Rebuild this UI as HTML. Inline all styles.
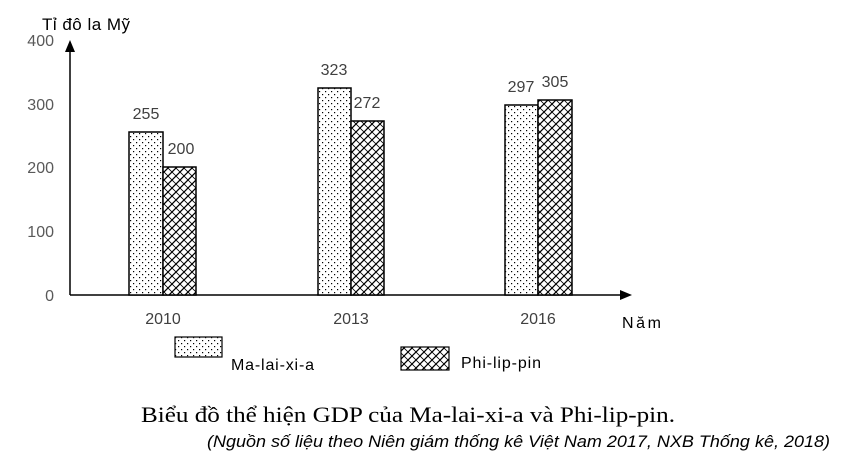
<!DOCTYPE html>
<html><head><meta charset="utf-8"><style>
body{margin:0;background:#fff;width:850px;height:463px;overflow:hidden}
</style></head><body>
<svg width="850" height="463" xmlns="http://www.w3.org/2000/svg" font-family="Liberation Sans, DejaVu Sans, sans-serif">
<defs>
<pattern id="dots" width="6" height="6" patternUnits="userSpaceOnUse">
<rect width="6" height="6" fill="#fff"/><rect x="1" y="1" width="1.2" height="1.2" fill="#000"/><rect x="4" y="4" width="1.2" height="1.2" fill="#000"/>
</pattern>
<pattern id="hatch" width="8" height="8" patternUnits="userSpaceOnUse">
<rect width="8" height="8" fill="#fff"/>
<path d="M0,8 L8,0 M-2,2 L2,-2 M6,10 L10,6" stroke="#000" stroke-width="1.3"/>
<path d="M0,0 L8,8" stroke="#000" stroke-width="0.8"/>
</pattern>
</defs>
<g font-size="16" fill="#595959" text-anchor="end">
<text x="54" y="46">400</text><text x="54" y="110">300</text><text x="54" y="173">200</text><text x="54" y="237">100</text><text x="54" y="301">0</text>
</g>
<text x="42" y="30" font-size="17" fill="#000" textLength="88">Tỉ đô la Mỹ</text>
<line x1="70" y1="295" x2="70" y2="50" stroke="#000" stroke-width="1.5"/>
<polygon points="70,40 65,52 75,52" fill="#000"/>
<line x1="70" y1="295" x2="620" y2="295" stroke="#000" stroke-width="1.5"/>
<polygon points="632,295 620,290 620,300" fill="#000"/>
<g stroke="#000" stroke-width="1.5">
<rect x="129" y="132" width="34" height="163" fill="url(#dots)"/>
<rect x="163" y="167" width="33" height="128" fill="url(#hatch)"/>
<rect x="318" y="88" width="33" height="207" fill="url(#dots)"/>
<rect x="351" y="121" width="33" height="174" fill="url(#hatch)"/>
<rect x="505" y="105" width="33" height="190" fill="url(#dots)"/>
<rect x="538" y="100" width="34" height="195" fill="url(#hatch)"/>
</g>
<g font-size="16" fill="#404040" text-anchor="middle">
<text x="146" y="119">255</text><text x="181" y="154">200</text>
<text x="334" y="75">323</text><text x="367" y="108">272</text>
<text x="521" y="92">297</text><text x="555" y="87">305</text>
<text x="163" y="324">2010</text><text x="351" y="324">2013</text><text x="538" y="324">2016</text>
</g>
<text x="622" y="328" font-size="16" fill="#000" textLength="39">Năm</text>
<rect x="175" y="337" width="47" height="20" fill="url(#dots)" stroke="#000" stroke-width="1.2"/>
<text x="231" y="370" font-size="16" fill="#000" textLength="83">Ma-lai-xi-a</text>
<rect x="401" y="347" width="48" height="23" fill="url(#hatch)" stroke="#000" stroke-width="1.2"/>
<text x="461" y="368" font-size="16" fill="#000" textLength="80">Phi-lip-pin</text>
<text x="141" y="422" font-size="22" font-family="Liberation Serif, serif" fill="#000" textLength="534" lengthAdjust="spacingAndGlyphs">Biểu đồ thể hiện GDP của Ma-lai-xi-a và Phi-lip-pin.</text>
<text x="207" y="447" font-size="17" font-style="italic" fill="#000" textLength="623" lengthAdjust="spacingAndGlyphs">(Nguồn số liệu theo Niên giám thống kê Việt Nam 2017, NXB Thống kê, 2018)</text>
</svg>
</body></html>
